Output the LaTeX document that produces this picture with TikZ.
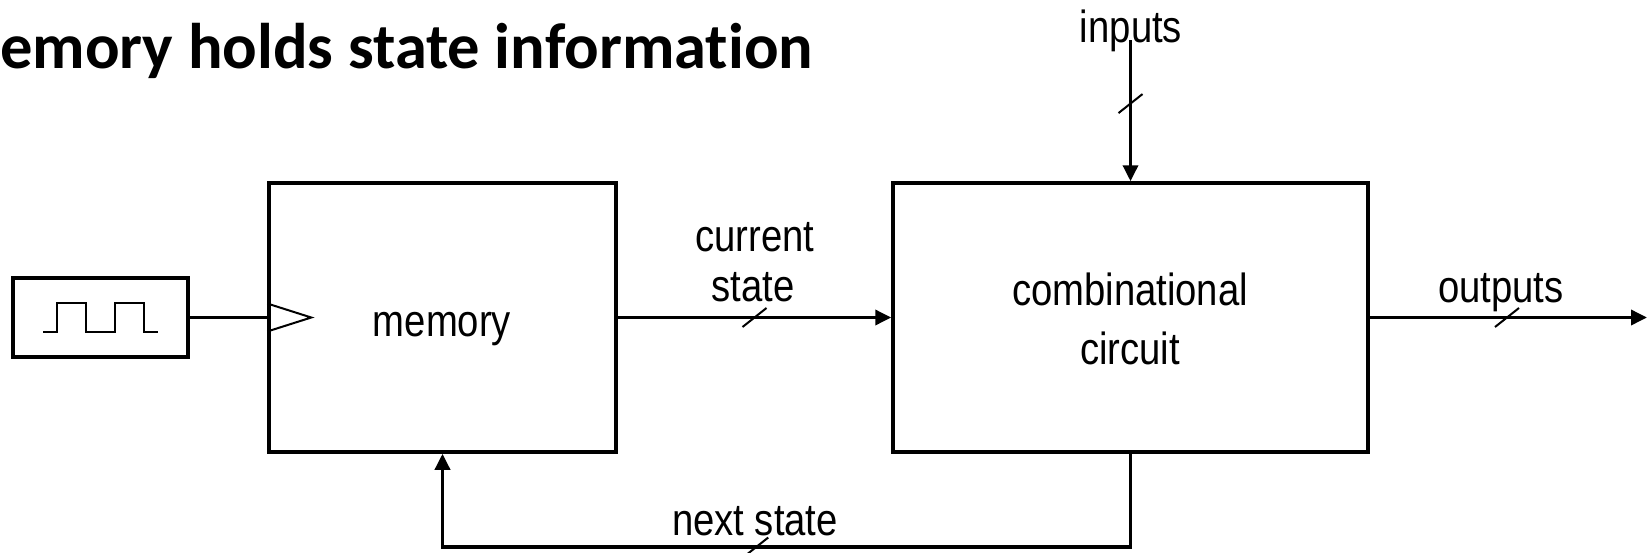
\documentclass[tikz,border=0pt]{standalone}
\usepackage{fontspec}
\usetikzlibrary{arrows.meta,calc}
\newfontfamily\labfont{Liberation Sans}
\newfontfamily\titlefont[Ligatures=NoCommon]{Carlito}
\newcommand\lbl[1]{\scalebox{0.85}[1]{\labfont\fontsize{45}{54}\selectfont #1}}
\begin{document}
\begin{tikzpicture}[x=1pt,y=-1pt,
  box/.style={draw, line width=3.5pt, inner sep=0pt, rectangle},
  wire/.style={line width=3.5pt},
  arr/.style={-{Triangle[length=16pt,width=15pt]}},
  tick/.style={line width=2pt},
  lab/.style={anchor=base, inner sep=0pt}]
\useasboundingbox (0,0) rectangle (1648,552);
% title
\node[anchor=base west, inner sep=0pt] (title) at (0,68)
  {\titlefont\bfseries\fontsize{64.5}{70}\selectfont emory holds state information};
% blocks
\node[box, minimum width=347pt, minimum height=269pt] (mem) at (442.5,317.5) {};
\node[box, minimum width=475pt, minimum height=269pt] (comb) at (1130.5,317.5) {};
\node[box, minimum width=175pt, minimum height=79pt] (clk) at (100.5,317.5) {};
% labels
\node[lab] (memlab) at (442,336) {\lbl{memory}};
\node[lab] (comblab1) at (1130,305) {\lbl{combinational}};
\node[lab] (comblab2) at (1130,364) {\lbl{circuit}};
\node[lab] (cur1) at (755,251) {\lbl{current}};
\node[lab] (cur2) at (753,301) {\lbl{state}};
\node[lab] (inlab) at (1131,42) {\lbl{inputs}};
\node[lab] (outlab) at (1501,302) {\lbl{outputs}};
\node[lab] (nextlab) at (755,535) {\lbl{next state}};
% clock waveform
\draw[line width=2pt] ($(clk.center)+(-57.5,14.5)$) -- ++(14,0) -- ++(0,-29) -- ++(29,0) -- ++(0,29)
  -- ++(29,0) -- ++(0,-29) -- ++(29,0) -- ++(0,29) -- ++(14,0);
% clock input triangle
\draw[line width=2pt] ($(mem.west)+(0,-14)$) -- ($(mem.west)+(44,0)$) -- ($(mem.west)+(0,14)$);
% connectors
\coordinate (inp) at (1130.5,40);
\coordinate (outp) at (1647,317.5);
\coordinate (fb) at (0,547);
\draw[wire] (clk.east) -- (mem.west);
\draw[wire,arr] (mem.east) -- (comb.west);
\draw[wire,arr] (inp) -- (comb.north);
\draw[wire,arr] (comb.east) -- (outp);
\draw[wire,arr] (comb.south) -- (comb.south |- fb) -- (mem.south |- fb) -- (mem.south);
% bus ticks
\draw[tick] ($(mem.east)!0.5!(comb.west)+(-12,9.5)$) -- ++(24,-19);
\draw[tick] ($(inp)!0.45!(comb.north)+(-12,9.5)$) -- ++(24,-19);
\draw[tick] ($(comb.east)!0.495!(outp)+(-12,9.5)$) -- ++(24,-19);
\draw[tick] ($(mem.south |- fb)!0.456!(comb.south |- fb)+(-12,9.5)$) -- ++(24,-19);
\end{tikzpicture}
\end{document}
